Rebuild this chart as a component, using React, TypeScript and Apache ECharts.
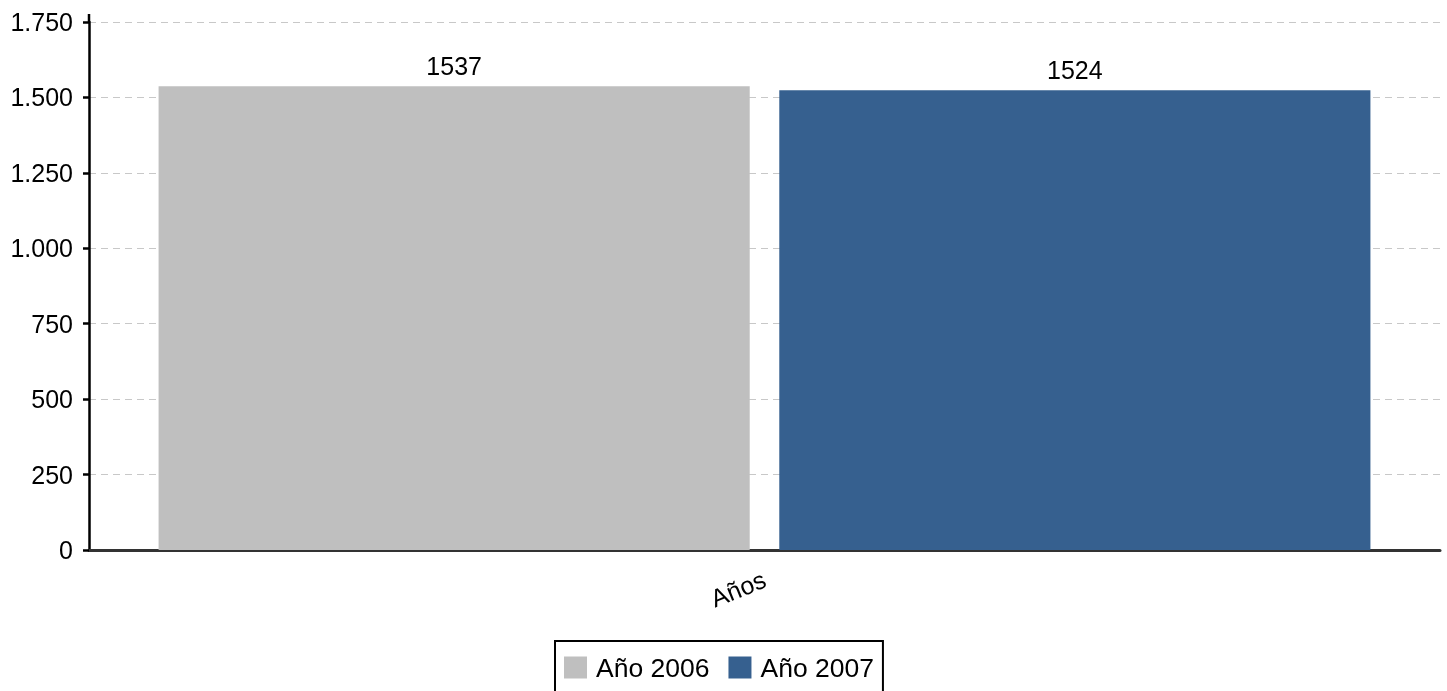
import React, { useEffect, useRef } from "react";
import * as echarts from "echarts";

const categories = ["Años"];
const seriesNames = ["Año 2006", "Año 2007"];
const values2006 = [1537];
const values2007 = [1524];
const colors = ["#bfbfbf", "#36608f"];
const yMax = 1750;
const yInterval = 250;

const fmt = (v: number) => String(v).replace(/\B(?=(\d{3})+(?!\d))/g, ".");

export default function App() {
  const ref = useRef<HTMLDivElement>(null);
  useEffect(() => {
    if (!ref.current) return;
    const chart = echarts.init(ref.current, undefined, { renderer: "svg" });
    const font = "Liberation Sans, Arial, sans-serif";
    const fs = 25;
    chart.setOption({
      animation: false,
      textStyle: { fontFamily: font },
      grid: { left: 89, right: 7, top: 22, bottom: 141, containLabel: false },
      legend: {
        data: seriesNames,
        left: 555,
        top: 641,
        icon: "rect",
        itemWidth: 23,
        itemHeight: 22,
        itemGap: 19,
        borderColor: "#000",
        borderWidth: 2,
        borderRadius: 0,
        padding: [13, 9, 13, 9],
        textStyle: { fontSize: 26.5, color: "#000", fontFamily: font, padding: [0, 0, 0, 4] },
      },
      xAxis: {
        type: "category",
        data: categories,
        axisLine: { show: true, lineStyle: { color: "#333", width: 3 } },
        axisTick: { show: false },
        axisLabel: { rotate: 22, fontSize: fs, color: "#000", margin: 28, fontFamily: font },
      },
      yAxis: {
        type: "value",
        min: 0,
        max: yMax,
        interval: yInterval,
        axisLine: { show: true, lineStyle: { color: "#000", width: 2.5 } },
        axisTick: { show: true, length: 6, lineStyle: { color: "#000", width: 2.5 } },
        axisLabel: { fontSize: fs, color: "#000", margin: 16, formatter: (v: number) => fmt(v), fontFamily: font },
        splitLine: { show: true, lineStyle: { color: "#c8c8c8", type: [7, 5], width: 1 } },
      },
      graphic: [
        { type: "line", shape: { x1: 89, y1: 14, x2: 89, y2: 23 }, style: { stroke: "#000", lineWidth: 2.5 } },
      ],
      series: [
        {
          name: seriesNames[0],
          type: "bar",
          data: values2006,
          itemStyle: { color: colors[0] },
          barCategoryGap: "10.3%",
          barGap: "5%",
          label: { show: true, position: "top", distance: 8, fontSize: fs, color: "#000", fontFamily: font },
        },
        {
          name: seriesNames[1],
          type: "bar",
          data: values2007,
          itemStyle: { color: colors[1] },
          barCategoryGap: "10.3%",
          barGap: "5%",
          label: { show: true, position: "top", distance: 8, fontSize: fs, color: "#000", fontFamily: font },
        },
      ],
    });
    return () => chart.dispose();
  }, []);
  return <div ref={ref} style={{ position: "fixed", left: 0, top: 0, width: 1447, height: 691 }} />;
}
